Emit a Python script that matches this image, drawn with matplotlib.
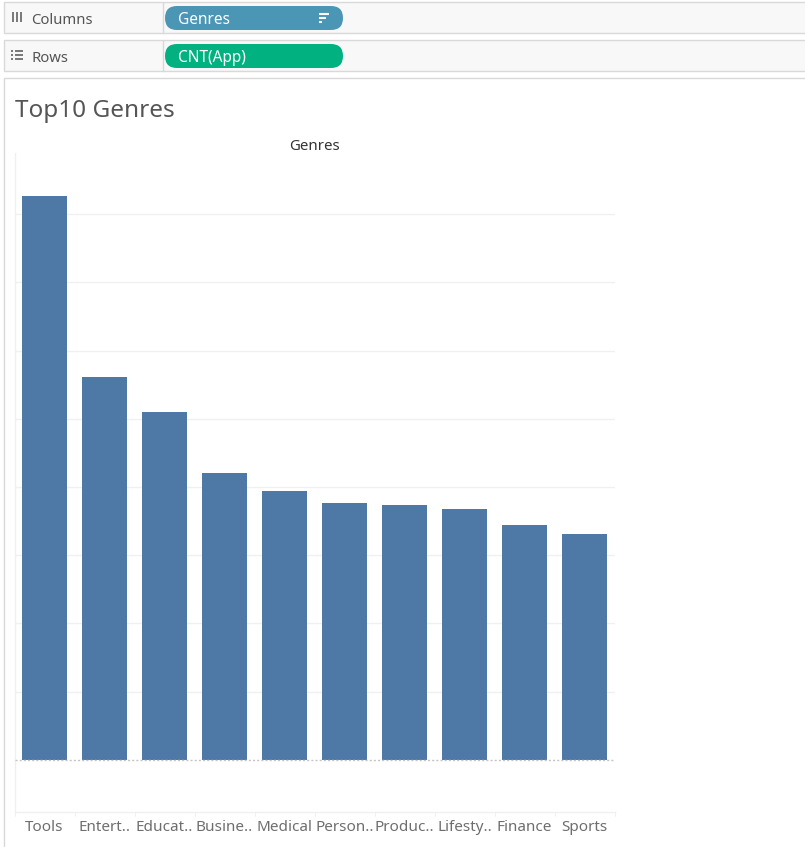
import matplotlib
matplotlib.use('Agg')
import matplotlib.pyplot as plt
from matplotlib.patches import FancyBboxPatch, Rectangle

W, H = 805, 847

genres = ["Tools", "Entert..", "Educat..", "Busine..", "Medical", "Person..", "Produc..", "Lifesty..", "Finance", "Sports"]
app_counts = [826, 561, 510, 420, 394, 376, 374, 368, 345, 331]
grid_values = [100, 200, 300, 400, 500, 600, 700, 800]

FONT = "Noto Sans"
BAR_COLOR = "#4e79a7"
LINE_COLOR = "#f0f0f0"
SHELF_LINE = "#d9d9d9"

plt.rcParams['font.family'] = [FONT, 'DejaVu Sans']

fig = plt.figure(figsize=(W / 100, H / 100), dpi=100, facecolor="white")

# Overlay in pixel coords for the Tableau shelves around the chart
bg = fig.add_axes([0, 0, 1, 1])
bg.set_xlim(0, W)
bg.set_ylim(H, 0)
bg.axis("off")


def box(x0, y0, x1, y1, face="#f8f8f8", edge=SHELF_LINE):
    bg.add_patch(Rectangle((x0, y0), x1 - x0, y1 - y0, facecolor=face, edgecolor=edge, linewidth=1))


def pill(x0, y0, x1, y1, color):
    r = (y1 - y0) / 2
    bg.add_patch(FancyBboxPatch((x0 + r, y0 + r), x1 - x0 - 2 * r, 0,
                                boxstyle=f"round,pad={r},rounding_size={r}",
                                facecolor=color, edgecolor="none"))


# Shelves
box(3.5, 2.5, 830, 33.5)
box(3.5, 40.5, 830, 71.5)
bg.plot([162.5, 162.5], [3, 33], color=SHELF_LINE, lw=1)
bg.plot([162.5, 162.5], [41, 71], color=SHELF_LINE, lw=1)
box(3.5, 78.5, 830, 860, face="white")

bg.text(31, 20, "Columns", fontsize=10.7, color="#555555", va="center")
bg.text(31, 58, "Rows", fontsize=10.7, color="#555555", va="center")

# iii icon
for x in (12.5, 16.5, 20.5):
    bg.plot([x, x], [12.5, 22], color="#555555", lw=1.1, solid_capstyle="butt")
# list icon
for y in (51.5, 55.5, 59.5):
    bg.plot([11, 13], [y, y], color="#555555", lw=1.1, solid_capstyle="butt")
    bg.plot([15, 23], [y, y], color="#555555", lw=1.1, solid_capstyle="butt")

pill(165, 6, 343, 30, "#4c96b5")
pill(165, 44, 343, 68, "#02b180")
bg.text(178, 19.5, "Genres", fontsize=11.1, color="white", va="center")
bg.text(178, 58, "CNT(App)", fontsize=11.1, color="white", va="center")

# sort icon on the Genres pill
for y, x1 in ((14, 329), (18, 326), (22, 322)):
    bg.plot([319, x1], [y, y], color="white", lw=1.5, solid_capstyle="butt")

bg.text(15, 111, "Top10 Genres", fontsize=17.5, color="#555555", va="center", fontweight="light")
bg.text(314.5, 146, "Genres", fontsize=10.8, color="#333333", ha="center", va="center")

# Chart area: one band per genre, 600px wide, baseline at y=760, 100 apps = 68.25px
ax = fig.add_axes([14.6 / W, 1 - 812 / H, 600 / W, (812 - 153) / H])
ax.patch.set_alpha(0)
ax.set_xlim(-0.5, len(genres) - 0.5)
ax.set_ylim(-76.2, 889.4)

ax.bar(range(len(genres)), app_counts, width=0.75, color=BAR_COLOR, zorder=3)

for v in grid_values:
    ax.axhline(v, color=LINE_COLOR, lw=1, zorder=1)
ax.axhline(0, color="#c4c4c4", lw=1, ls=(0, (1.5, 1.5)), zorder=4)

for side in ("top", "right"):
    ax.spines[side].set_visible(False)
for side in ("left", "bottom"):
    ax.spines[side].set_color(LINE_COLOR)
    ax.spines[side].set_linewidth(1)

ax.set_yticks([])
ax.set_xticks([i - 0.5 for i in range(len(genres) + 1)], minor=False)
ax.set_xticklabels([])
ax.tick_params(axis="x", length=3, color=LINE_COLOR, direction="out")
for i, name in enumerate(genres):
    ax.annotate(name, xy=(i, 0), xycoords=("data", "axes fraction"), xytext=(0, -15),
                textcoords="offset pixels", ha="center", va="center",
                fontsize=11, color="#6e6e6e")

fig.savefig("out.png", dpi=100)
